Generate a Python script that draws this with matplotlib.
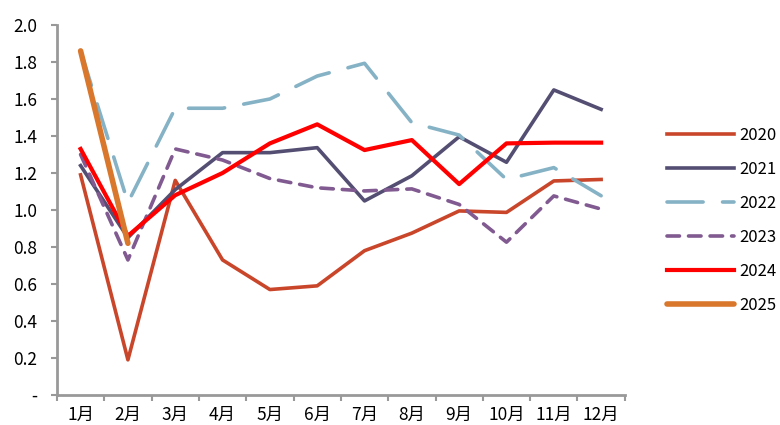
import matplotlib
matplotlib.use("Agg")
import matplotlib.pyplot as plt

plt.rcParams['font.family'] = ['Noto Sans CJK SC', 'DejaVu Sans']
plt.rcParams['lines.scale_dashes'] = False

months = ["1月", "2月", "3月", "4月", "5月", "6月", "7月", "8月", "9月", "10月", "11月", "12月"]

s2020 = [1.19, 0.19, 1.16, 0.73, 0.57, 0.59, 0.78, 0.875, 0.995, 0.987, 1.157, 1.165]
s2021 = [1.24, 0.85, 1.11, 1.31, 1.31, 1.337, 1.049, 1.185, 1.396, 1.258, 1.649, 1.544]
s2022 = [1.86, 1.04, 1.55, 1.55, 1.60, 1.724, 1.793, 1.472, 1.405, 1.165, 1.229, 1.077]
s2023 = [1.30, 0.73, 1.33, 1.27, 1.17, 1.12, 1.103, 1.114, 1.03, 0.826, 1.076, 1.005]
s2024 = [1.33, 0.86, 1.08, 1.20, 1.36, 1.463, 1.324, 1.378, 1.14, 1.36, 1.364, 1.364]
s2025 = [1.86, 0.82]

y_ticks = [0, 0.2, 0.4, 0.6, 0.8, 1.0, 1.2, 1.4, 1.6, 1.8, 2.0]
y_labels = ["-", "0.2", "0.4", "0.6", "0.8", "1.0", "1.2", "1.4", "1.6", "1.8", "2.0"]

fig = plt.figure(figsize=(7.8, 4.25), dpi=100)
ax = fig.add_axes([0.073, 0.0706, 0.728, 0.8706])

x = list(range(len(months)))
styles = [
    ("2020", s2020, dict(color="#C9462B", lw=2.6)),
    ("2021", s2021, dict(color="#544E72", lw=2.6)),
    ("2022", s2022, dict(color="#86B2C6", lw=2.6, dashes=(26, 14), dash_capstyle="round")),
    ("2023", s2023, dict(color="#805A90", lw=2.6, dashes=(9, 6.5), dash_capstyle="round")),
    ("2024", s2024, dict(color="#FF0000", lw=3.0)),
    ("2025", s2025, dict(color="#D9772D", lw=4.0, solid_capstyle="round")),
]
handles = []
for name, vals, kw in styles:
    line, = ax.plot(x[:len(vals)], vals, label=name, **kw)
    handles.append(line)

ax.set_xlim(-0.5, len(months) - 0.5)
ax.set_ylim(0, 2.0)
ax.set_yticks(y_ticks)
ax.set_yticklabels(y_labels)
ax.set_xticks(x)
ax.set_xticklabels(months)
ax.set_xticks([i - 0.5 for i in range(len(months) + 1)], minor=True)
ax.tick_params(axis="x", which="major", length=0, pad=8, labelsize=12.5)
ax.tick_params(axis="x", which="minor", length=4, width=1.5, color="#999999", direction="out")
ax.tick_params(axis="y", length=4, width=1.5, color="#999999", labelsize=12.5, pad=10)

for side in ("top", "right"):
    ax.spines[side].set_visible(False)
for side in ("left", "bottom"):
    ax.spines[side].set_color("#999999")
    ax.spines[side].set_linewidth(2)

fig.legend(handles=handles, loc="upper left", bbox_to_anchor=(0.847, 0.718),
           frameon=False, fontsize=12, handlelength=4.0, labelspacing=1.02,
           handletextpad=0.3, borderaxespad=0)

fig.savefig("out.png", dpi=100)
